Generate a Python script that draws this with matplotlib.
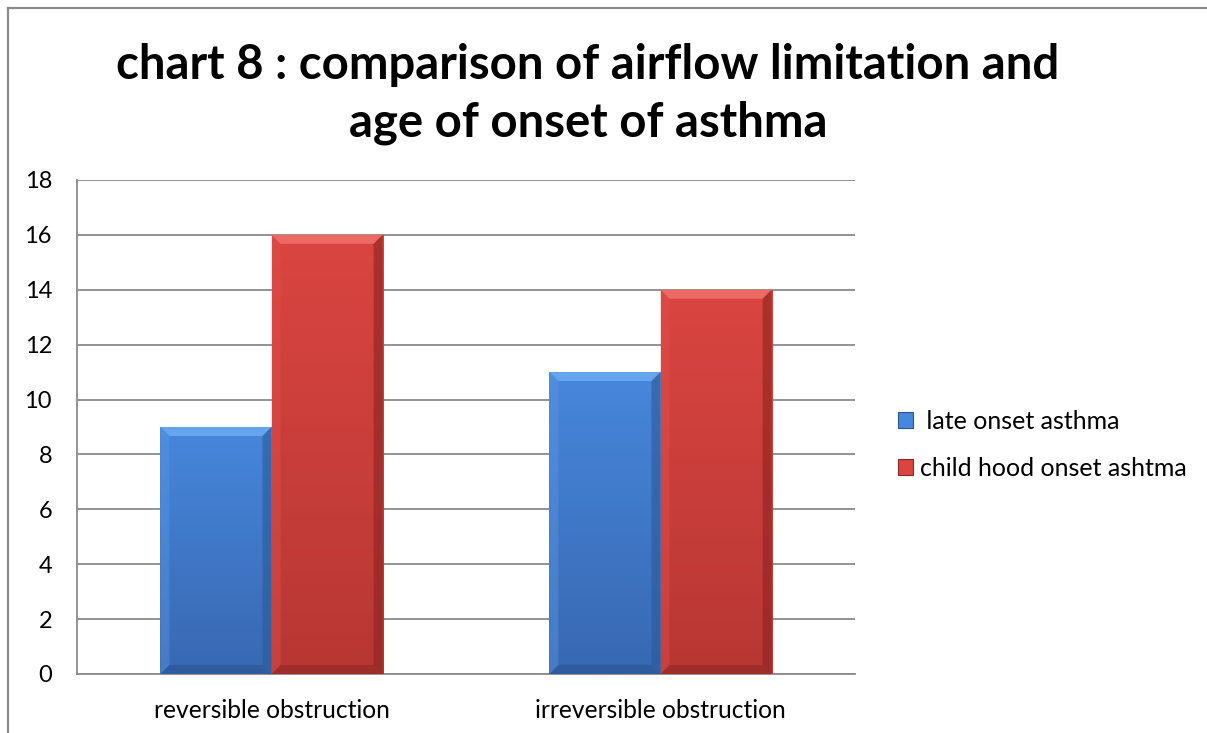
import numpy as np
import matplotlib
matplotlib.use("Agg")
import matplotlib.pyplot as plt
from matplotlib.patches import Polygon
from matplotlib.lines import Line2D
from matplotlib.colors import to_rgb

plt.rcParams['font.family'] = ['Lato', 'DejaVu Sans']

title = "chart 8 : comparison of airflow limitation and\nage of onset of asthma"
categories = ["reversible obstruction", "irreversible obstruction"]
series_names = [" late onset asthma", "child hood onset ashtma"]
late_onset = [9, 11]
childhood_onset = [16, 14]
y_ticks = [0, 2, 4, 6, 8, 10, 12, 14, 16, 18]

W, H, DPI = 1207, 733, 100
fig = plt.figure(figsize=(W / DPI, H / DPI), dpi=DPI)
fig.patch.set_facecolor("white")

# chart frame (left and top edges)
fig.add_artist(Line2D([8 / W, 8 / W], [0, 1 - 8 / H], transform=fig.transFigure,
                      color="#8c8c8c", lw=1.6))
fig.add_artist(Line2D([8 / W, 1], [1 - 8 / H, 1 - 8 / H], transform=fig.transFigure,
                      color="#8c8c8c", lw=1.6))

left, right, top, bottom = 77, 855, 180, 674
ax = fig.add_axes([left / W, (H - bottom) / H, (right - left) / W, (bottom - top) / H])
ax.set_xlim(-0.5, 1.5)
ax.set_ylim(0, 18)
ax.set_yticks(y_ticks)
ax.set_yticklabels([str(v) for v in y_ticks], fontsize=17, color="black")
ax.set_xticks(range(len(categories)))
ax.set_xticklabels(categories, fontsize=17.7, color="black")
ax.tick_params(axis="both", length=0)
ax.tick_params(axis="y", pad=18)
ax.tick_params(axis="x", pad=18)
ax.grid(axis="y", color="#8a8a8a", lw=1.3)
ax.set_axisbelow(True)
for s in ["top", "right"]:
    ax.spines[s].set_visible(False)
for s in ["left", "bottom"]:
    ax.spines[s].set_color("#8a8a8a")
    ax.spines[s].set_linewidth(1.3)

bw = 0.2857
x = np.arange(len(categories))
styles = [
    dict(top="#4787dc", bottom="#3868b2", bevel_top="#66a4ee", bevel_side="#5f98e2",
         bevel_right="#2c5a98", bevel_bottom="#2a5390"),
    dict(top="#da4541", bottom="#b83733", bevel_top="#ec6964", bevel_side="#e0524d",
         bevel_right="#8c2320", bevel_bottom="#8a2724"),
]
bars_a = ax.bar(x - bw / 2, late_onset, width=bw, color=styles[0]["top"], zorder=3)
bars_b = ax.bar(x + bw / 2, childhood_onset, width=bw, color=styles[1]["top"], zorder=3)

px_x = 2.0 / (right - left)
px_y = 18.0 / (bottom - top)
bev = 9

for bars, st in zip([bars_a, bars_b], styles):
    for p in bars:
        x0, y0 = p.get_x(), p.get_y()
        x1, y1 = x0 + p.get_width(), y0 + p.get_height()
        # vertical gradient body
        c_top = np.array(to_rgb(st["top"]))
        c_bot = np.array(to_rgb(st["bottom"]))
        t = np.linspace(0, 1, 256)[:, None]
        grad = (c_top * (1 - t) + c_bot * t)[:, None, :]
        grad = np.repeat(grad, 4, axis=1)
        im = ax.imshow(grad, extent=[x0, x1, y0, y1], aspect="auto", zorder=3.1,
                       interpolation="bilinear")
        im.set_clip_path(p)
        dx, dy = bev * px_x, bev * px_y
        # bevel edges
        ax.add_patch(Polygon([[x0, y1], [x1, y1], [x1 - dx, y1 - dy], [x0 + dx, y1 - dy]],
                             closed=True, color=st["bevel_top"], lw=0, zorder=3.2))
        ax.add_patch(Polygon([[x0, y0], [x0, y1], [x0 + dx, y1 - dy], [x0 + dx, y0 + dy]],
                             closed=True, color=st["bevel_side"], lw=0, zorder=3.2, alpha=0.4))
        ax.add_patch(Polygon([[x1, y0], [x1, y1], [x1 - dx, y1 - dy], [x1 - dx, y0 + dy]],
                             closed=True, color=st["bevel_right"], lw=0, zorder=3.2, alpha=0.6))
        ax.add_patch(Polygon([[x0, y0], [x1, y0], [x1 - dx, y0 + dy], [x0 + dx, y0 + dy]],
                             closed=True, color=st["bevel_bottom"], lw=0, zorder=3.2, alpha=0.55))

fig.text(588 / W, 1 - 94 / H, title, ha="center", va="center", fontsize=34,
         fontweight="bold", linespacing=1.36)

leg = fig.legend([bars_a[0], bars_b[0]], series_names, loc="center left",
                 bbox_to_anchor=(885 / W, 1 - 445 / H), frameon=False, fontsize=18,
                 handlelength=0.6, handleheight=0.6, handletextpad=0.3,
                 labelspacing=0.95, borderpad=0)
for h, st in zip(leg.legend_handles, styles):
    h.set_edgecolor(st["bevel_bottom"])
    h.set_linewidth(0.8)

fig.savefig("out.png", dpi=DPI, facecolor="white")
